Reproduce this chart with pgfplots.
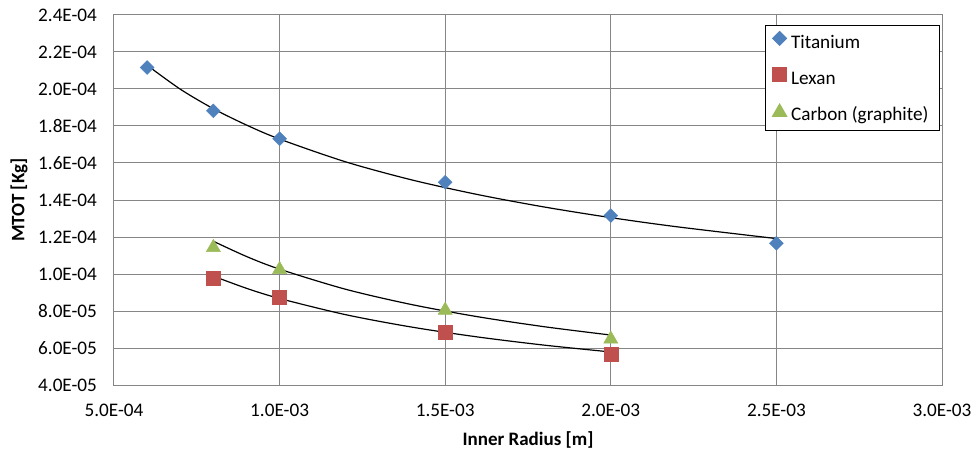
\documentclass[border=0pt]{standalone}
\usepackage{pgfplots}
\pgfplotsset{compat=1.18}
\usepackage{fontspec}
\setmainfont{Carlito}
\definecolor{ti}{RGB}{79,129,189}
\definecolor{lx}{RGB}{192,80,77}
\definecolor{cb}{RGB}{155,187,89}
\definecolor{gridc}{RGB}{134,134,134}
\begin{document}
\begin{tikzpicture}
\begin{axis}[name=ax, scale only axis, width=828pt, height=370pt,
  xmin=0.0005, xmax=0.003, ymin=0.00004, ymax=0.00024,
  scaled ticks=false,
  xtick={0.0005,0.001,0.0015,0.002,0.0025,0.003},
  xticklabels={5.0E-04,1.0E-03,1.5E-03,2.0E-03,2.5E-03,3.0E-03},
  ytick={0.00004,0.00006,0.00008,0.0001,0.00012,0.00014,0.00016,0.00018,0.0002,0.00022,0.00024},
  yticklabels={4.0E-05,6.0E-05,8.0E-05,1.0E-04,1.2E-04,1.4E-04,1.6E-04,1.8E-04,2.0E-04,2.2E-04,2.4E-04},
  grid=major, major grid style={draw=gridc, line width=1pt},
  axis line style={draw=gridc, line width=1pt},
  major tick length=0pt, tick style={draw=none},
  tick label style={font=\fontsize{19.2}{21}\selectfont},
  yticklabel style={xshift=-13.5pt},
  xticklabel style={yshift=-15.5pt},
  xlabel={\textbf{Inner Radius [m]}},
  ylabel={\textbf{MTOT [Kg]}},
  label style={font=\fontsize{19}{21}\selectfont},
  xlabel style={at={(axis description cs:0.5,-0.1486)}, anchor=center},
  ylabel style={at={(axis description cs:-0.1147,0.5)}, anchor=center},
  legend style={at={(axis description cs:1,1)}, anchor=north east, xshift=-2pt, yshift=-10pt,
    draw=black, line width=1pt, font=\fontsize{19.2}{21}\selectfont,
    inner xsep=7pt, inner ysep=6pt, row sep=15.5pt, column sep=4pt,
    nodes={inner sep=0pt, text height=12pt, text depth=4pt}},
  legend cell align=left,
  legend image code/.code={\path (-3pt,0pt) (7pt,0pt); \draw[#1] plot coordinates {(0pt,5.8pt)};},
]
\addplot[only marks, mark=square*, mark size=4.9pt, color=ti, mark options={rotate=45, draw=ti, fill=ti}]
  coordinates {(0.0006,2.116e-4) (0.0008,1.882e-4) (0.001,1.731e-4) (0.0015,1.496e-4) (0.002,1.316e-4) (0.0025,1.166e-4)};
\addlegendentry{Titanium}
\addplot[only marks, mark=square*, mark size=7pt, color=lx, mark options={draw=lx, fill=lx}]
  coordinates {(0.0008,9.77e-5) (0.001,8.77e-5) (0.0015,6.86e-5) (0.002,5.68e-5)};
\addlegendentry{Lexan}
\addplot[only marks, mark=triangle*, mark size=8.2pt, color=cb, mark options={yshift=-2pt, draw=cb, fill=cb}]
  coordinates {(0.0008,1.154e-4) (0.001,1.035e-4) (0.0015,8.15e-5) (0.002,6.59e-5)};
\addlegendentry{Carbon (graphite)\hspace*{4pt}}
% trend lines (power fits)
\addplot[black, line width=1.2pt, smooth, forget plot] coordinates {
 (0.0006,2.1284e-4) (0.0007,1.9992e-4) (0.0008,1.8935e-4) (0.0009,1.8052e-4) (0.001,1.7294e-4)
 (0.0012,1.6059e-4) (0.0014,1.5082e-4) (0.0016,1.4287e-4) (0.0018,1.3619e-4) (0.002,1.3047e-4)
 (0.0022,1.2552e-4) (0.0025,1.1915e-4)};
\addplot[black, line width=1.2pt, smooth, forget plot] coordinates {
 (0.0008,9.885e-5) (0.0009,9.227e-5) (0.001,8.676e-5) (0.0012,7.799e-5) (0.0014,7.127e-5)
 (0.0016,6.592e-5) (0.0018,6.153e-5) (0.002,5.786e-5)};
\addplot[black, line width=1.2pt, smooth, forget plot] coordinates {
 (0.0008,1.177e-4) (0.0009,1.0947e-4) (0.001,1.0261e-4) (0.0012,9.172e-5) (0.0014,8.343e-5)
 (0.0016,7.685e-5) (0.0018,7.148e-5) (0.002,6.70e-5)};
\end{axis}
\path ([shift={(-114pt,-68pt)}]ax.south west) rectangle ([shift={(36pt,15pt)}]ax.north east);
\end{tikzpicture}
\end{document}
